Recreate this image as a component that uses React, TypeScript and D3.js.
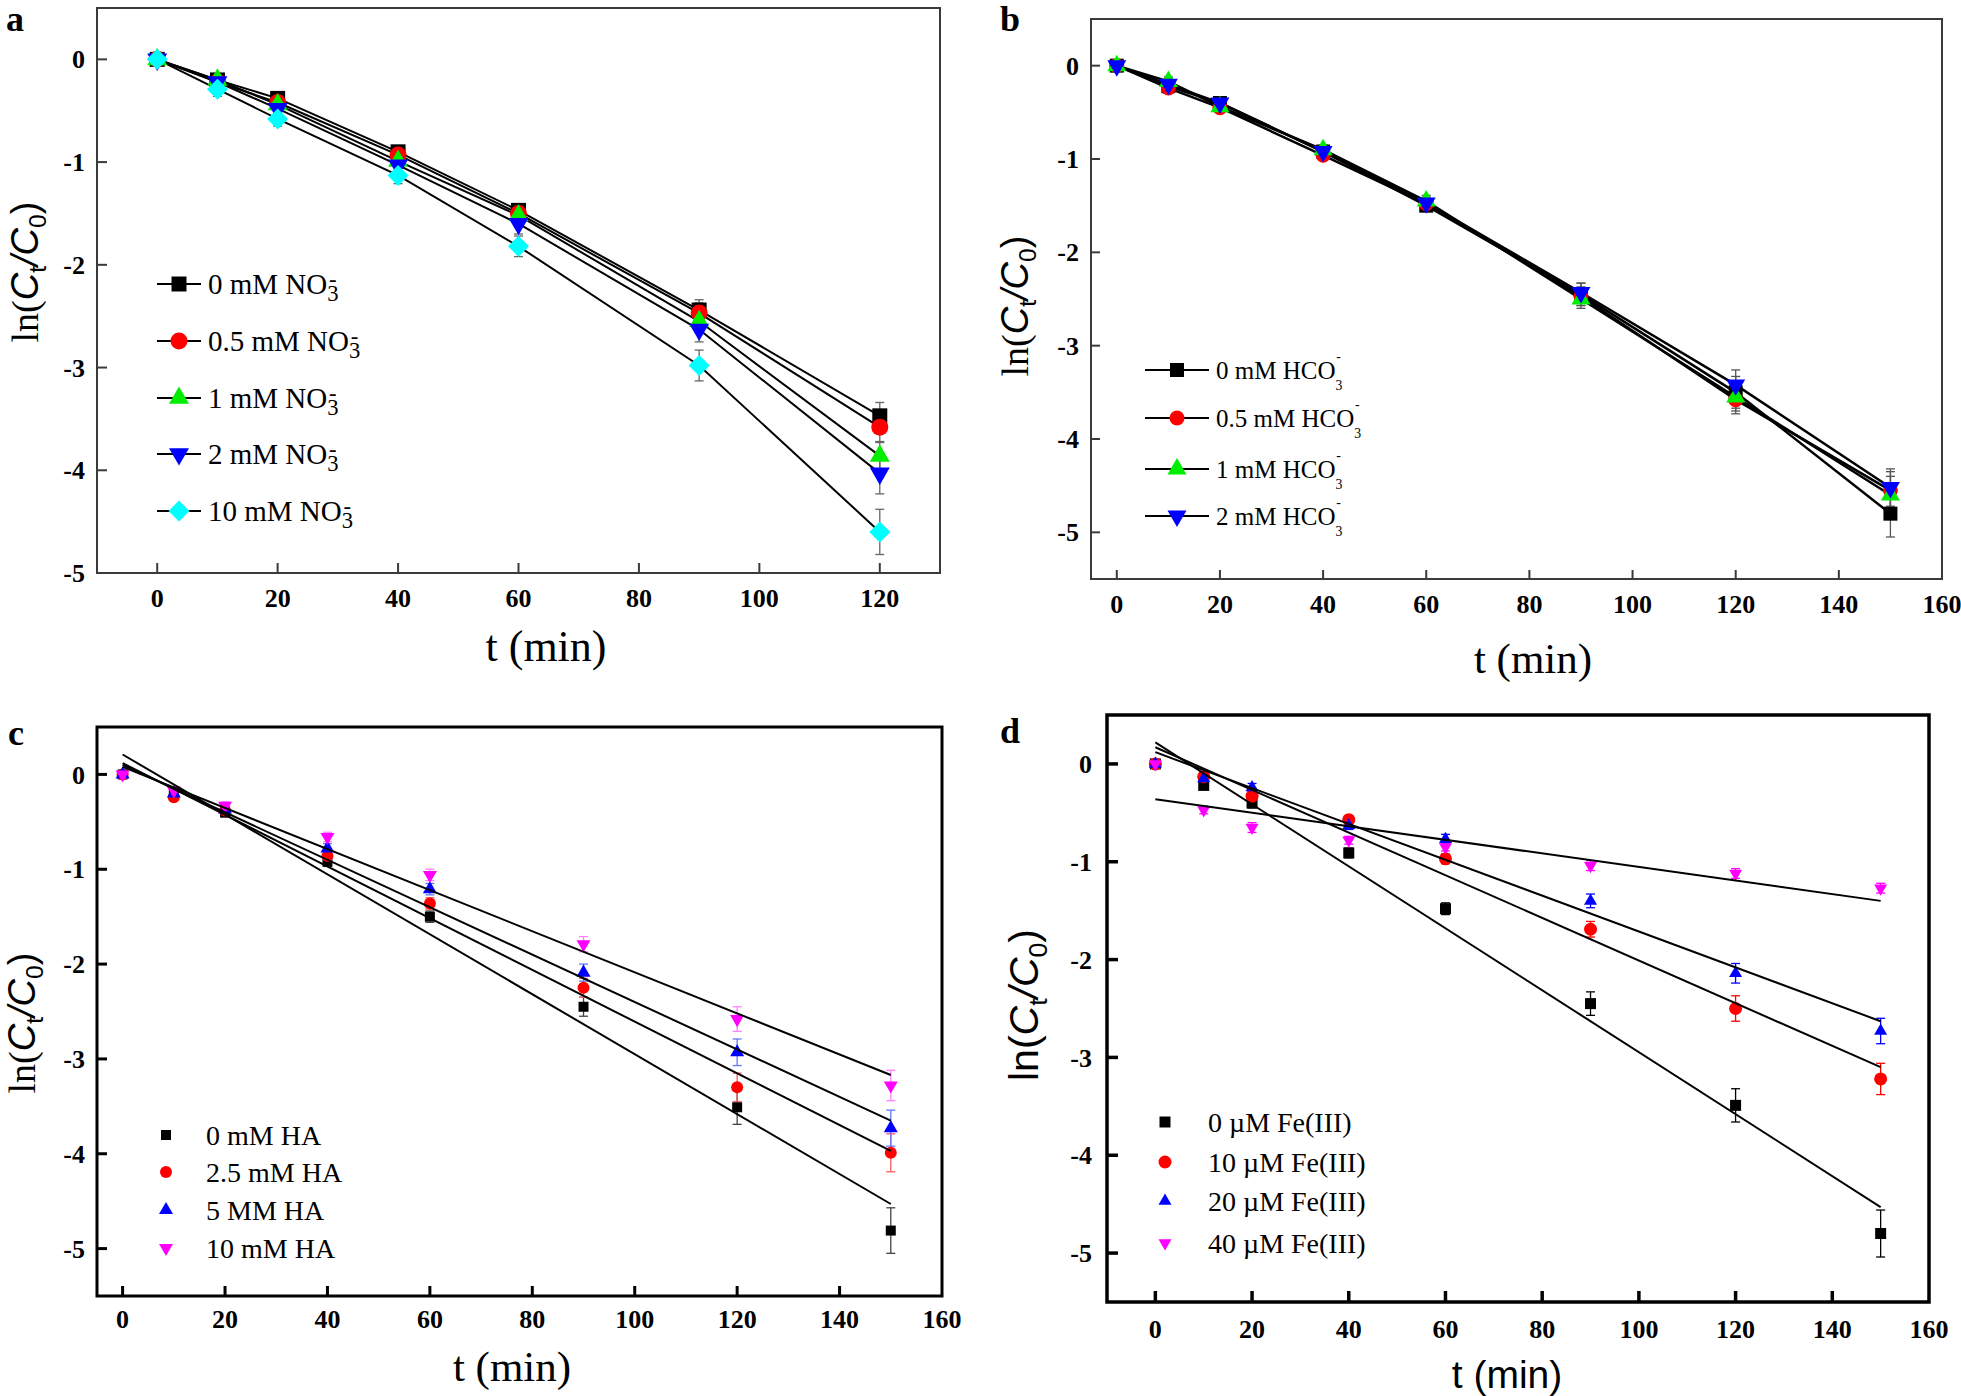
import React from 'react';
import * as d3 from 'd3';

const W = 1961;
const H = 1396;
const serif = '"Liberation Serif", "Times New Roman", serif';
const sans = '"Liberation Sans", Arial, sans-serif';

// sampling times (min)
const timeA = [0, 10, 20, 40, 60, 90, 120];
const timeLong = [0, 10, 20, 40, 60, 90, 120, 150];

// panel a: nitrate
const no3Labels = ['0 mM NO', '0.5 mM NO', '1 mM NO', '2 mM NO', '10 mM NO'];
const no3_0 = [0, -0.2, -0.38, -0.9, -1.47, -2.44, -3.47];
const no3_05 = [0, -0.22, -0.42, -0.93, -1.5, -2.47, -3.58];
const no3_1 = [0, -0.2, -0.44, -0.99, -1.52, -2.55, -3.86];
const no3_2 = [0, -0.22, -0.48, -1.03, -1.6, -2.63, -4.03];
const no3_10 = [0, -0.29, -0.58, -1.13, -1.82, -2.98, -4.6];
const no3Err_0 = [0.03, 0.04, 0.05, 0.06, 0.06, 0.1, 0.13];
const no3Err_05 = [0.03, 0.04, 0.05, 0.06, 0.07, 0.1, 0.15];
const no3Err_1 = [0.03, 0.05, 0.06, 0.07, 0.08, 0.1, 0.14];
const no3Err_2 = [0.03, 0.05, 0.06, 0.07, 0.1, 0.12, 0.2];
const no3Err_10 = [0.03, 0.07, 0.07, 0.08, 0.1, 0.15, 0.22];

// panel b: bicarbonate
const hco3Labels = ['0 mM HCO', '0.5 mM HCO', '1 mM HCO', '2 mM HCO'];
const hco3_0 = [0, -0.22, -0.4, -0.92, -1.5, -2.45, -3.5, -4.8];
const hco3_05 = [0, -0.24, -0.45, -0.96, -1.48, -2.47, -3.58, -4.55];
const hco3_1 = [0, -0.17, -0.44, -0.9, -1.45, -2.5, -3.55, -4.6];
const hco3_2 = [0, -0.2, -0.4, -0.92, -1.47, -2.43, -3.42, -4.52];
const hco3Err_0 = [0.03, 0.04, 0.05, 0.05, 0.06, 0.12, 0.17, 0.25];
const hco3Err_05 = [0.03, 0.04, 0.05, 0.05, 0.06, 0.1, 0.15, 0.2];
const hco3Err_1 = [0.03, 0.05, 0.05, 0.05, 0.06, 0.1, 0.15, 0.2];
const hco3Err_2 = [0.03, 0.04, 0.05, 0.05, 0.06, 0.1, 0.16, 0.2];

// panel c: humic acid
const haLabels = ['0 mM HA', '2.5 mM HA', '5 MM HA', '10 mM HA'];
const ha_0 = [0, -0.2, -0.4, -0.92, -1.5, -2.45, -3.51, -4.81];
const ha_25 = [0, -0.24, -0.38, -0.86, -1.36, -2.25, -3.3, -3.99];
const ha_5 = [0, -0.2, -0.37, -0.78, -1.21, -2.09, -2.93, -3.73];
const ha_10 = [0, -0.17, -0.33, -0.66, -1.06, -1.79, -2.58, -3.28];
const haErr_0 = [0.02, 0.03, 0.05, 0.05, 0.06, 0.1, 0.18, 0.24];
const haErr_25 = [0.02, 0.03, 0.04, 0.05, 0.06, 0.1, 0.15, 0.2];
const haErr_5 = [0.02, 0.03, 0.04, 0.05, 0.06, 0.09, 0.14, 0.19];
const haErr_10 = [0.02, 0.03, 0.04, 0.05, 0.06, 0.08, 0.13, 0.16];
const haFitStart = [0.21, 0.12, 0.1, 0.08];
const haFitEnd = [-4.53, -3.97, -3.65, -3.17];

// panel d: Fe(III)
const feLabels = ['0 \u00b5M Fe(III)', '10 \u00b5M Fe(III)', '20 \u00b5M Fe(III)', '40 \u00b5M Fe(III)'];
const fe_0 = [0, -0.22, -0.4, -0.91, -1.48, -2.45, -3.49, -4.8];
const fe_10 = [0, -0.13, -0.33, -0.57, -0.97, -1.69, -2.5, -3.22];
const fe_20 = [0, -0.15, -0.24, -0.63, -0.77, -1.4, -2.14, -2.73];
const fe_40 = [0, -0.47, -0.65, -0.78, -0.85, -1.04, -1.12, -1.27];
const feErr_0 = [0.02, 0.04, 0.05, 0.05, 0.06, 0.12, 0.17, 0.24];
const feErr_10 = [0.02, 0.03, 0.04, 0.04, 0.05, 0.08, 0.13, 0.16];
const feErr_20 = [0.02, 0.03, 0.04, 0.04, 0.05, 0.07, 0.1, 0.13];
const feErr_40 = [0.02, 0.04, 0.05, 0.04, 0.04, 0.05, 0.05, 0.05];
const feFitStart = [0.22, 0.17, 0.12, -0.36];
const feFitEnd = [-4.53, -3.1, -2.63, -1.4];

const fitRange = [0, 150];
const ticks120 = [0, 20, 40, 60, 80, 100, 120];
const ticks160 = [0, 20, 40, 60, 80, 100, 120, 140, 160];
const yTicks = [0, -1, -2, -3, -4, -5];

type Shape = 'square' | 'circle' | 'up' | 'down' | 'diamond';

function symbolPath(shape: Shape, s: number) {
  if (shape === 'square') return d3.symbol(d3.symbolSquare, s * s)() as string;
  if (shape === 'circle') return d3.symbol(d3.symbolCircle, Math.PI * (s / 2) * (s / 2))() as string;
  if (shape === 'diamond') return d3.symbol(d3.symbolSquare, (s * s) / 2)() as string;
  return d3.symbol(d3.symbolTriangle, (Math.sqrt(3) / 4) * s * s)() as string;
}

function Marker({ shape, x, y, s, color }: { shape: Shape; x: number; y: number; s: number; color: string }) {
  const rot = shape === 'down' ? 180 : shape === 'diamond' ? 45 : 0;
  return <path d={symbolPath(shape, s)} transform={`translate(${x},${y}) rotate(${rot})`} fill={color} />;
}

const panels = [
  {
    id: 'a',
    frame: { l: 97, r: 940, t: 8, b: 573 },
    xDomain: [-10, 130], yDomain: [-5, 0.5], xTicks: ticks120,
    frameColor: '#3a3a3a', frameW: 2, tickLen: 10,
    ylabGap: 12, xlabGap: 34, mode: 'line', lineW: 2,
    sizes: { square: 15, circle: 17, up: 20, down: 20, diamond: 21 },
    times: timeA,
    series: [
      { label: no3Labels[0], color: '#000', err: '#666', shape: 'square', y: no3_0, e: no3Err_0 },
      { label: no3Labels[1], color: '#ff0000', err: '#666', shape: 'circle', y: no3_05, e: no3Err_05 },
      { label: no3Labels[2], color: '#00ee00', err: '#666', shape: 'up', y: no3_1, e: no3Err_1 },
      { label: no3Labels[3], color: '#0000ff', err: '#666', shape: 'down', y: no3_2, e: no3Err_2 },
      { label: no3Labels[4], color: '#00ffff', err: '#666', shape: 'diamond', y: no3_10, e: no3Err_10 },
    ],
    legend: { rows: [284, 341, 398, 454, 511], mx: 179, line: [157, 201], tx: 208, fs: 29, ion: 'bar' },
    tag: { x: 6, y: 31 },
    xTitle: { x: 546, y: 661, fs: 44, font: serif },
    yTitle: { x: 25, y: 272, fs: 38, lnFont: serif },
  },
  {
    id: 'b',
    frame: { l: 1091, r: 1942, t: 19, b: 579 },
    xDomain: [-5, 160], yDomain: [-5.5, 0.5], xTicks: ticks160,
    frameColor: '#3a3a3a', frameW: 2, tickLen: 9,
    ylabGap: 12, xlabGap: 34, mode: 'line', lineW: 2.5,
    sizes: { square: 14, circle: 15, up: 19, down: 19, diamond: 19 },
    times: timeLong,
    series: [
      { label: hco3Labels[0], color: '#000', err: '#555', shape: 'square', y: hco3_0, e: hco3Err_0 },
      { label: hco3Labels[1], color: '#ff0000', err: '#555', shape: 'circle', y: hco3_05, e: hco3Err_05 },
      { label: hco3Labels[2], color: '#00ee00', err: '#555', shape: 'up', y: hco3_1, e: hco3Err_1 },
      { label: hco3Labels[3], color: '#0000ff', err: '#555', shape: 'down', y: hco3_2, e: hco3Err_2 },
    ],
    legend: { rows: [370, 418, 469, 516], mx: 1177, line: [1145, 1209], tx: 1216, fs: 25, ion: 'ion' },
    tag: { x: 1000, y: 31 },
    xTitle: { x: 1533, y: 673, fs: 43, font: serif },
    yTitle: { x: 1015, y: 306, fs: 38, lnFont: serif },
  },
  {
    id: 'c',
    frame: { l: 97, r: 942, t: 727, b: 1296 },
    xDomain: [-5, 160], yDomain: [-5.5, 0.5], xTicks: ticks160,
    frameColor: '#000', frameW: 3, tickLen: 10,
    ylabGap: 12, xlabGap: 32, mode: 'fit', lineW: 2,
    sizes: { square: 10, circle: 12, up: 14, down: 14, diamond: 14 },
    times: timeLong,
    series: [
      { label: haLabels[0], color: '#000', err: '#444', shape: 'square', y: ha_0, e: haErr_0, f0: haFitStart[0], f1: haFitEnd[0] },
      { label: haLabels[1], color: '#ff0000', err: '#ff5a5a', shape: 'circle', y: ha_25, e: haErr_25, f0: haFitStart[1], f1: haFitEnd[1] },
      { label: haLabels[2], color: '#0000ff', err: '#6078ff', shape: 'up', y: ha_5, e: haErr_5, f0: haFitStart[2], f1: haFitEnd[2] },
      { label: haLabels[3], color: '#ff00ff', err: '#ff80ff', shape: 'down', y: ha_10, e: haErr_10, f0: haFitStart[3], f1: haFitEnd[3] },
    ],
    legend: { rows: [1135, 1172, 1210, 1248], mx: 166, line: null, tx: 206, fs: 28, ion: null },
    tag: { x: 8, y: 745 },
    xTitle: { x: 512, y: 1381, fs: 43, font: serif },
    yTitle: { x: 22, y: 1023, fs: 38, lnFont: serif },
  },
  {
    id: 'd',
    frame: { l: 1107, r: 1929, t: 715, b: 1302 },
    xDomain: [-10, 160], yDomain: [-5.5, 0.5], xTicks: ticks160,
    frameColor: '#000', frameW: 3.5, tickLen: 11,
    ylabGap: 15, xlabGap: 36, mode: 'fit', lineW: 2,
    sizes: { square: 11, circle: 13, up: 13, down: 13, diamond: 13 },
    times: timeLong,
    series: [
      { label: feLabels[0], color: '#000', err: '#000', shape: 'square', y: fe_0, e: feErr_0, f0: feFitStart[0], f1: feFitEnd[0] },
      { label: feLabels[1], color: '#ff0000', err: '#ff0000', shape: 'circle', y: fe_10, e: feErr_10, f0: feFitStart[1], f1: feFitEnd[1] },
      { label: feLabels[2], color: '#0000ff', err: '#0000ff', shape: 'up', y: fe_20, e: feErr_20, f0: feFitStart[2], f1: feFitEnd[2] },
      { label: feLabels[3], color: '#ff00ff', err: '#ff00ff', shape: 'down', y: fe_40, e: feErr_40, f0: feFitStart[3], f1: feFitEnd[3] },
    ],
    legend: { rows: [1122, 1162, 1201, 1243], mx: 1165, line: null, tx: 1208, fs: 28, ion: null },
    tag: { x: 1000, y: 743 },
    xTitle: { x: 1507, y: 1388, fs: 39, font: sans },
    yTitle: { x: 1024, y: 1005, fs: 41, lnFont: sans },
  },
];

function LegendText({ x, y, fs, text, ion }: any) {
  if (ion === 'bar') {
    const fs2 = fs * 0.78;
    return (
      <text x={x} y={y} fontSize={fs} fontFamily={serif}>
        {text}
        <tspan fontSize={fs2} dy={fs * 0.24}>3</tspan>
        <tspan fontSize={fs2} dx={-fs2 * 0.42} dy={-fs2 * 0.62}>-</tspan>
      </text>
    );
  }
  if (ion === 'ion') {
    const fs2 = fs * 0.55;
    return (
      <text x={x} y={y} fontSize={fs} fontFamily={serif}>
        {text}
        <tspan fontSize={fs2} dy={fs * 0.45}>3</tspan>
        <tspan fontSize={fs2} dx={-fs2 * 0.45} dy={-fs * 1.15}>-</tspan>
      </text>
    );
  }
  return (
    <text x={x} y={y} fontSize={fs} fontFamily={serif}>
      {text}
    </text>
  );
}

function Panel({ p }: { p: any }) {
  const { frame } = p;
  const x = d3.scaleLinear().domain(p.xDomain).range([frame.l, frame.r]);
  const y = d3.scaleLinear().domain(p.yDomain).range([frame.b, frame.t]);
  const line = d3
    .line<number>()
    .x((_, i) => x(p.times[i]))
    .y((v) => y(v));
  const cap = 4.5;
  const yt = p.yTitle;
  const sub = yt.fs * 0.65;

  return (
    <g>
      {/* error bars */}
      {p.series.map((s: any, si: number) =>
        s.y.map((v: number, i: number) => {
          const cx = x(p.times[i]);
          const y1 = y(v + s.e[i]);
          const y2 = y(v - s.e[i]);
          return (
            <g key={`e${si}-${i}`} stroke={s.err} strokeWidth={1.3}>
              <line x1={cx} x2={cx} y1={y1} y2={y2} />
              <line x1={cx - cap} x2={cx + cap} y1={y1} y2={y1} />
              <line x1={cx - cap} x2={cx + cap} y1={y2} y2={y2} />
            </g>
          );
        })
      )}
      {/* connecting lines */}
      {p.mode === 'line' &&
        p.series.map((s: any, si: number) => (
          <path key={`l${si}`} d={line(s.y) as string} fill="none" stroke="#000" strokeWidth={p.lineW} />
        ))}
      {/* markers */}
      {p.series.map((s: any, si: number) =>
        s.y.map((v: number, i: number) => (
          <Marker key={`m${si}-${i}`} shape={s.shape} x={x(p.times[i])} y={y(v)} s={p.sizes[s.shape]} color={s.color} />
        ))
      )}
      {/* linear fits */}
      {p.mode === 'fit' &&
        p.series.map((s: any, si: number) => (
          <line
            key={`f${si}`}
            x1={x(fitRange[0])}
            y1={y(s.f0)}
            x2={x(fitRange[1])}
            y2={y(s.f1)}
            stroke="#000"
            strokeWidth={p.lineW}
          />
        ))}

      {/* frame */}
      <rect
        x={frame.l}
        y={frame.t}
        width={frame.r - frame.l}
        height={frame.b - frame.t}
        fill="none"
        stroke={p.frameColor}
        strokeWidth={p.frameW}
      />
      {/* x ticks */}
      {p.xTicks.map((t: number) => (
        <g key={`xt${t}`}>
          {x(t) < frame.r - 2 && (
            <line x1={x(t)} x2={x(t)} y1={frame.b} y2={frame.b - p.tickLen} stroke={p.frameColor} strokeWidth={p.frameW} />
          )}
          <text
            x={x(t)}
            y={frame.b + p.xlabGap}
            textAnchor="middle"
            fontFamily={serif}
            fontWeight="bold"
            fontSize={26}
          >
            {t}
          </text>
        </g>
      ))}
      {/* y ticks */}
      {yTicks.map((t: number) => (
        <g key={`yt${t}`}>
          <line x1={frame.l} x2={frame.l + p.tickLen} y1={y(t)} y2={y(t)} stroke={p.frameColor} strokeWidth={p.frameW} />
          <text
            x={frame.l - p.ylabGap}
            y={y(t)}
            dy="0.35em"
            textAnchor="end"
            fontFamily={serif}
            fontWeight="bold"
            fontSize={26}
          >
            {t === 0 ? '0' : `-${Math.abs(t)}`}
          </text>
        </g>
      ))}

      {/* legend */}
      {p.series.map((s: any, si: number) => {
        const ly = p.legend.rows[si];
        return (
          <g key={`lg${si}`}>
            {p.legend.line && (
              <line x1={p.legend.line[0]} x2={p.legend.line[1]} y1={ly} y2={ly} stroke="#000" strokeWidth={2} />
            )}
            <Marker shape={s.shape} x={p.legend.mx} y={ly} s={p.sizes[s.shape]} color={s.color} />
            <LegendText x={p.legend.tx} y={ly + p.legend.fs * 0.34} fs={p.legend.fs} text={s.label} ion={p.legend.ion} />
          </g>
        );
      })}

      {/* panel tag */}
      <text x={p.tag.x} y={p.tag.y} fontFamily={serif} fontWeight="bold" fontSize={36}>
        {p.id}
      </text>

      {/* axis titles */}
      <text x={p.xTitle.x} y={p.xTitle.y} textAnchor="middle" fontFamily={p.xTitle.font} fontSize={p.xTitle.fs}>
        t (min)
      </text>
      <g transform={`translate(${yt.x},${yt.y}) rotate(-90)`}>
        <text textAnchor="middle" y={yt.fs * 0.33} fontSize={yt.fs} fontFamily={sans}>
          <tspan fontFamily={yt.lnFont}>ln(</tspan>
          <tspan fontStyle="italic">C</tspan>
          <tspan fontSize={sub} dy={yt.fs * 0.22}>t</tspan>
          <tspan fontStyle="italic" dy={-yt.fs * 0.22}>/C</tspan>
          <tspan fontSize={sub} dy={yt.fs * 0.22}>0</tspan>
          <tspan dy={-yt.fs * 0.22}>)</tspan>
        </text>
      </g>
    </g>
  );
}

export default function App() {
  return (
    <svg
      width={W}
      height={H}
      viewBox={`0 0 ${W} ${H}`}
      style={{ position: 'absolute', left: 0, top: 0, background: '#fff' }}
    >
      <rect width={W} height={H} fill="#fff" />
      {panels.map((p) => (
        <Panel key={p.id} p={p} />
      ))}
    </svg>
  );
}
